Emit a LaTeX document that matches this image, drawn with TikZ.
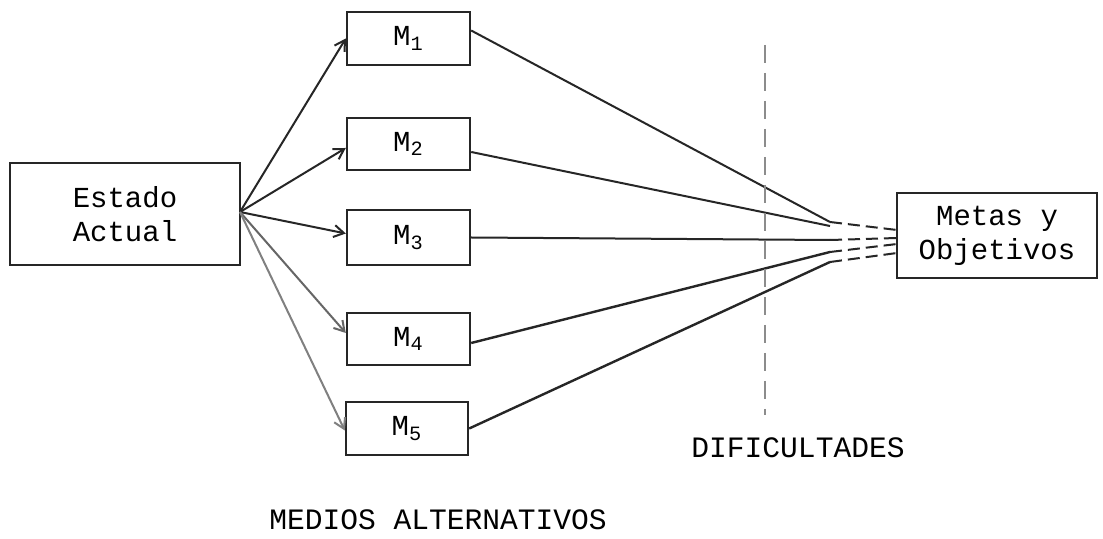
\documentclass[tikz,border=0pt]{standalone}
\usepackage{fontspec}
\setmonofont{Liberation Mono}
\usetikzlibrary{arrows.meta}
\begin{document}
\begin{tikzpicture}[x=0.5pt,y=-0.5pt,
  box/.style={draw=black!85,line width=1.2pt,inner sep=0pt,font=\ttfamily\fontsize{14.5}{17}\selectfont,align=center},
  link/.style={draw=black!85,line width=1pt},
  arr/.style={link,-{Straight Barb[length=5pt,width=6pt]}},
  dsh/.style={link,dash pattern=on 6pt off 3pt},
  lbl/.style={font=\ttfamily\fontsize{14.8}{17}\selectfont}]
\useasboundingbox[fill=white] (0,0) rectangle (1103,539);
\node[box,minimum width=115pt,minimum height=51pt] (ea) at (125,214) {Estado\\Actual};
\node[box,minimum width=61.5pt,minimum height=26.5pt] (m1) at (408.5,38.5) {M\textsubscript{1}};
\node[box,minimum width=61.5pt,minimum height=26pt] (m2) at (408.5,144) {M\textsubscript{2}};
\node[box,minimum width=61.5pt,minimum height=27.5pt] (m3) at (408.5,237.5) {M\textsubscript{3}};
\node[box,minimum width=61.5pt,minimum height=26pt] (m4) at (408.5,339) {M\textsubscript{4}};
\node[box,minimum width=61pt,minimum height=26.5pt] (m5) at (407,428.5) {M\textsubscript{5}};
\node[box,minimum width=100pt,minimum height=42.5pt] (mo) at (997,235.5) {Metas y\\Objetivos};
\coordinate (s) at (240,212);
\draw[arr] (s) -- (m1.west);
\draw[arr] (s) -- ([yshift=-2pt]m2.west);
\draw[arr] (s) -- ([yshift=2pt]m3.west);
\draw[arr,draw=black!60] (s) -- ([yshift=3pt]m4.west);
\draw[arr,draw=black!50] (s) -- ([yshift=-1pt]m5.west);
\coordinate (c1) at (830,222);
\coordinate (c2) at (830,226);
\coordinate (c3) at (830,240);
\coordinate (c4) at (830,252);
\coordinate (c5) at (830,262);
\coordinate (g1) at (897,230);
\coordinate (g2) at (897,238);
\coordinate (g3) at (897,244);
\coordinate (g4) at (897,253);
\draw[link] ([yshift=4pt]m1.east) -- (c1);
\draw[link] ([yshift=-4pt]m2.east) -- (c2);
\draw[link] (m3.east) -- (c3);
\draw[link,line width=1.2pt] ([yshift=-2pt]m4.east) -- (c4);
\draw[link,line width=1.2pt] (m5.east) -- (c5);
\draw[dsh] (c1) -- (g1);
\draw[dsh] (c3) -- (g2);
\draw[dsh] (c4) -- (g3);
\draw[dsh] (c5) -- (g4);
\coordinate (d1) at (765,45);
\coordinate (d2) at (765,415);
\draw[draw=black!45,line width=1.3pt,dash pattern=on 9pt off 5pt] (d1) -- (d2);
\node[lbl] (dif) at (798,448) {DIFICULTADES};
\node[lbl] (med) at (438,520) {MEDIOS ALTERNATIVOS};
\end{tikzpicture}
\end{document}
